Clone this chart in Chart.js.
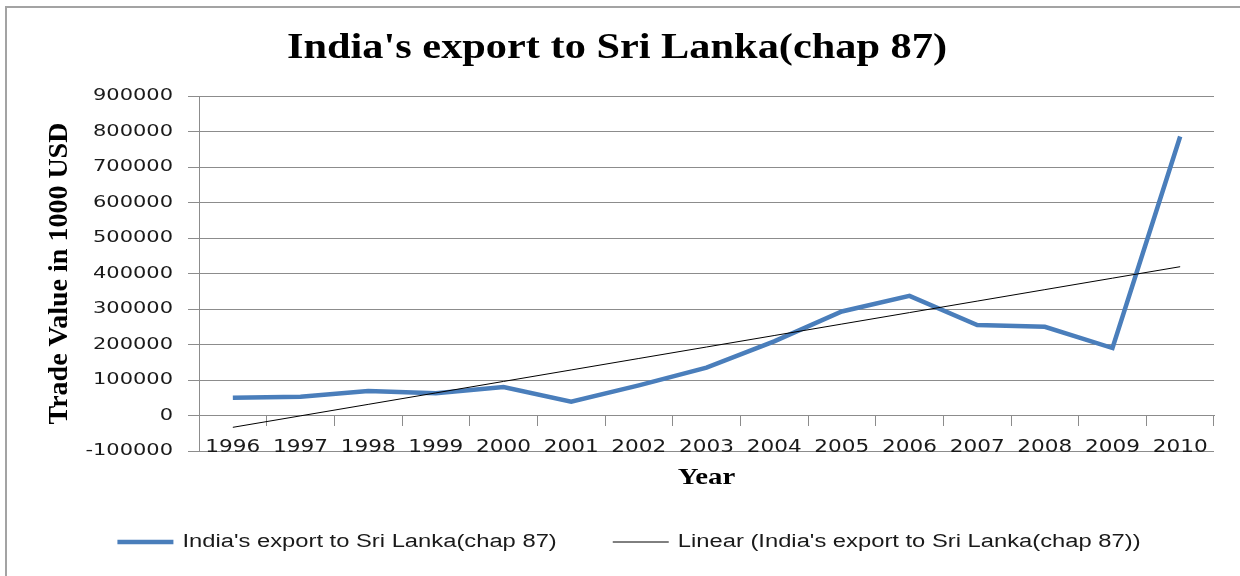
<!DOCTYPE html>
<html>
<head>
<meta charset="utf-8">
<title>India's export to Sri Lanka(chap 87)</title>
<script src="https://cdn.jsdelivr.net/npm/chart.js@4"></script>
<style>
    html, body { margin: 0; background: #fff; overflow: hidden; }
    #frame { position: absolute; left: 5px; top: 6px; width: 1260px; height: 620px; border: 2px solid #a3a3a3; }
    #wrap { position: absolute; left: 0; top: 0; width: 1240px; height: 576px; }
</style>
</head>
<body>
<div id="frame"></div>
<div id="wrap"><canvas id="exportChart" width="1240" height="576"></canvas></div>
<script>
    "use strict";

    // data (trade value in 1000 USD)
    const years = ['1996', '1997', '1998', '1999', '2000', '2001', '2002', '2003',
                   '2004', '2005', '2006', '2007', '2008', '2009', '2010'];
    const exportValues = [50000, 53000, 69000, 63000, 80000, 39000, 85000, 135000,
                          209000, 293000, 337000, 255000, 250000, 190000, 786000];
    const yTickValues = [-100000, 0, 100000, 200000, 300000, 400000, 500000,
                         600000, 700000, 800000, 900000];

    // linear trendline, least squares over the year index (like Excel does)
    function linearTrend(values) {
        const n = values.length;
        const mx = (n - 1) / 2;
        const my = values.reduce((a, b) => a + b, 0) / n;
        let sxy = 0, sxx = 0;
        values.forEach((v, i) => {
            sxy += (i - mx) * (v - my);
            sxx += (i - mx) * (i - mx);
        });
        const slope = sxy / sxx;
        return values.map((v, i) => my + slope * (i - mx));
    }

    // the original picture is stretched sideways, so stretch the text too (keyed by font size)
    const textStretch = {35: 1.21, 16: 1.31, 17: 1.27, 18: 1.32, 24: 1.2};
    const ctxProto = CanvasRenderingContext2D.prototype;
    const baseFillText = ctxProto.fillText;
    const baseMeasureText = ctxProto.measureText;
    function stretchOf(ctx) {
        const m = /(\d+(?:\.\d+)?)px/.exec(ctx.font);
        return (m && textStretch[m[1]]) || 1;
    }
    ctxProto.fillText = function (text, x, y, maxWidth) {
        const sx = stretchOf(this);
        if (sx === 1) return baseFillText.apply(this, arguments);
        this.save();
        this.translate(x, y);
        this.scale(sx, 1);
        if (maxWidth === undefined) baseFillText.call(this, text, 0, 0);
        else baseFillText.call(this, text, 0, 0, maxWidth / sx);
        this.restore();
    };
    ctxProto.measureText = function (text) {
        const m = baseMeasureText.call(this, text);
        const sx = stretchOf(this);
        if (sx === 1) return m;
        return {
            width: m.width * sx,
            actualBoundingBoxAscent: m.actualBoundingBoxAscent,
            actualBoundingBoxDescent: m.actualBoundingBoxDescent,
            actualBoundingBoxLeft: m.actualBoundingBoxLeft * sx,
            actualBoundingBoxRight: m.actualBoundingBoxRight * sx
        };
    };

    // move the legend row a bit to the right, as in the original
    const legendNudge = {
        id: 'legendNudge',
        afterLayout(chart) {
            chart.legend.left += 12;
            chart.legend.right += 12;
        }
    };

    const gridGray = '#8c8c8c';
    const textColor = '#1a1a1a';

    new Chart(document.getElementById('exportChart'), {
        type: 'line',
        data: {
            labels: years,
            datasets: [{
                label: "Linear (India's export to Sri Lanka(chap 87))",
                data: linearTrend(exportValues),
                borderColor: '#000000',
                borderWidth: 1,
                pointRadius: 0,
                pointStyle: 'line',
                tension: 0
            }, {
                label: "India's export to Sri Lanka(chap 87)",
                data: exportValues,
                borderColor: '#4a7ebb',
                borderWidth: 4.5,
                pointRadius: 0,
                pointStyle: 'line',
                tension: 0
            }]
        },
        plugins: [legendNudge],
        options: {
            responsive: false,
            animation: false,
            devicePixelRatio: 1,
            layout: {padding: {left: 20, right: 26, top: 0, bottom: 15}},
            plugins: {
                title: {
                    display: true,
                    text: "India's export to Sri Lanka(chap 87)",
                    color: '#000000',
                    font: {family: 'Liberation Serif', size: 35, weight: 'bold'},
                    padding: {top: 28, bottom: 26}
                },
                legend: {
                    position: 'bottom',
                    reverse: true,
                    labels: {
                        usePointStyle: true,
                        pointStyle: 'line',
                        pointStyleWidth: 56,
                        padding: 56,
                        color: textColor,
                        font: {family: 'Liberation Sans', size: 18}
                    }
                },
                tooltip: {enabled: false}
            },
            scales: {
                x: {
                    position: {y: 0},
                    offset: true,
                    grid: {drawOnChartArea: false, offset: true, tickLength: 10, color: gridGray},
                    border: {color: gridGray},
                    ticks: {
                        color: textColor,
                        font: {family: 'DejaVu Sans', size: 17},
                        padding: 12,
                        maxRotation: 0,
                        autoSkip: false
                    }
                },
                xb: {
                    type: 'category',
                    position: 'bottom',
                    grid: {display: false, drawTicks: false},
                    border: {display: false},
                    ticks: {display: false},
                    title: {
                        display: true,
                        text: 'Year',
                        color: '#000000',
                        font: {family: 'Liberation Serif', size: 24, weight: 'bold'},
                        padding: {top: 12.6, bottom: -15.4}
                    }
                },
                y: {
                    position: 'left',
                    min: yTickValues[0],
                    max: yTickValues[yTickValues.length - 1],
                    afterBuildTicks: axis => {
                        axis.ticks = yTickValues.map(v => ({value: v}));
                    },
                    afterFit: axis => {
                        axis.width = 179;
                    },
                    grid: {color: gridGray, tickLength: 11},
                    border: {color: gridGray},
                    ticks: {
                        color: textColor,
                        font: {family: 'DejaVu Sans', size: 16},
                        padding: 15,
                        callback: value => String(value)
                    },
                    title: {
                        display: true,
                        text: 'Trade Value in 1000 USD',
                        color: '#000000',
                        font: {family: 'Liberation Serif', size: 28, weight: 'bold'},
                        padding: {top: 23, bottom: 7}
                    }
                }
            }
        }
    });
</script>
</body>
</html>
